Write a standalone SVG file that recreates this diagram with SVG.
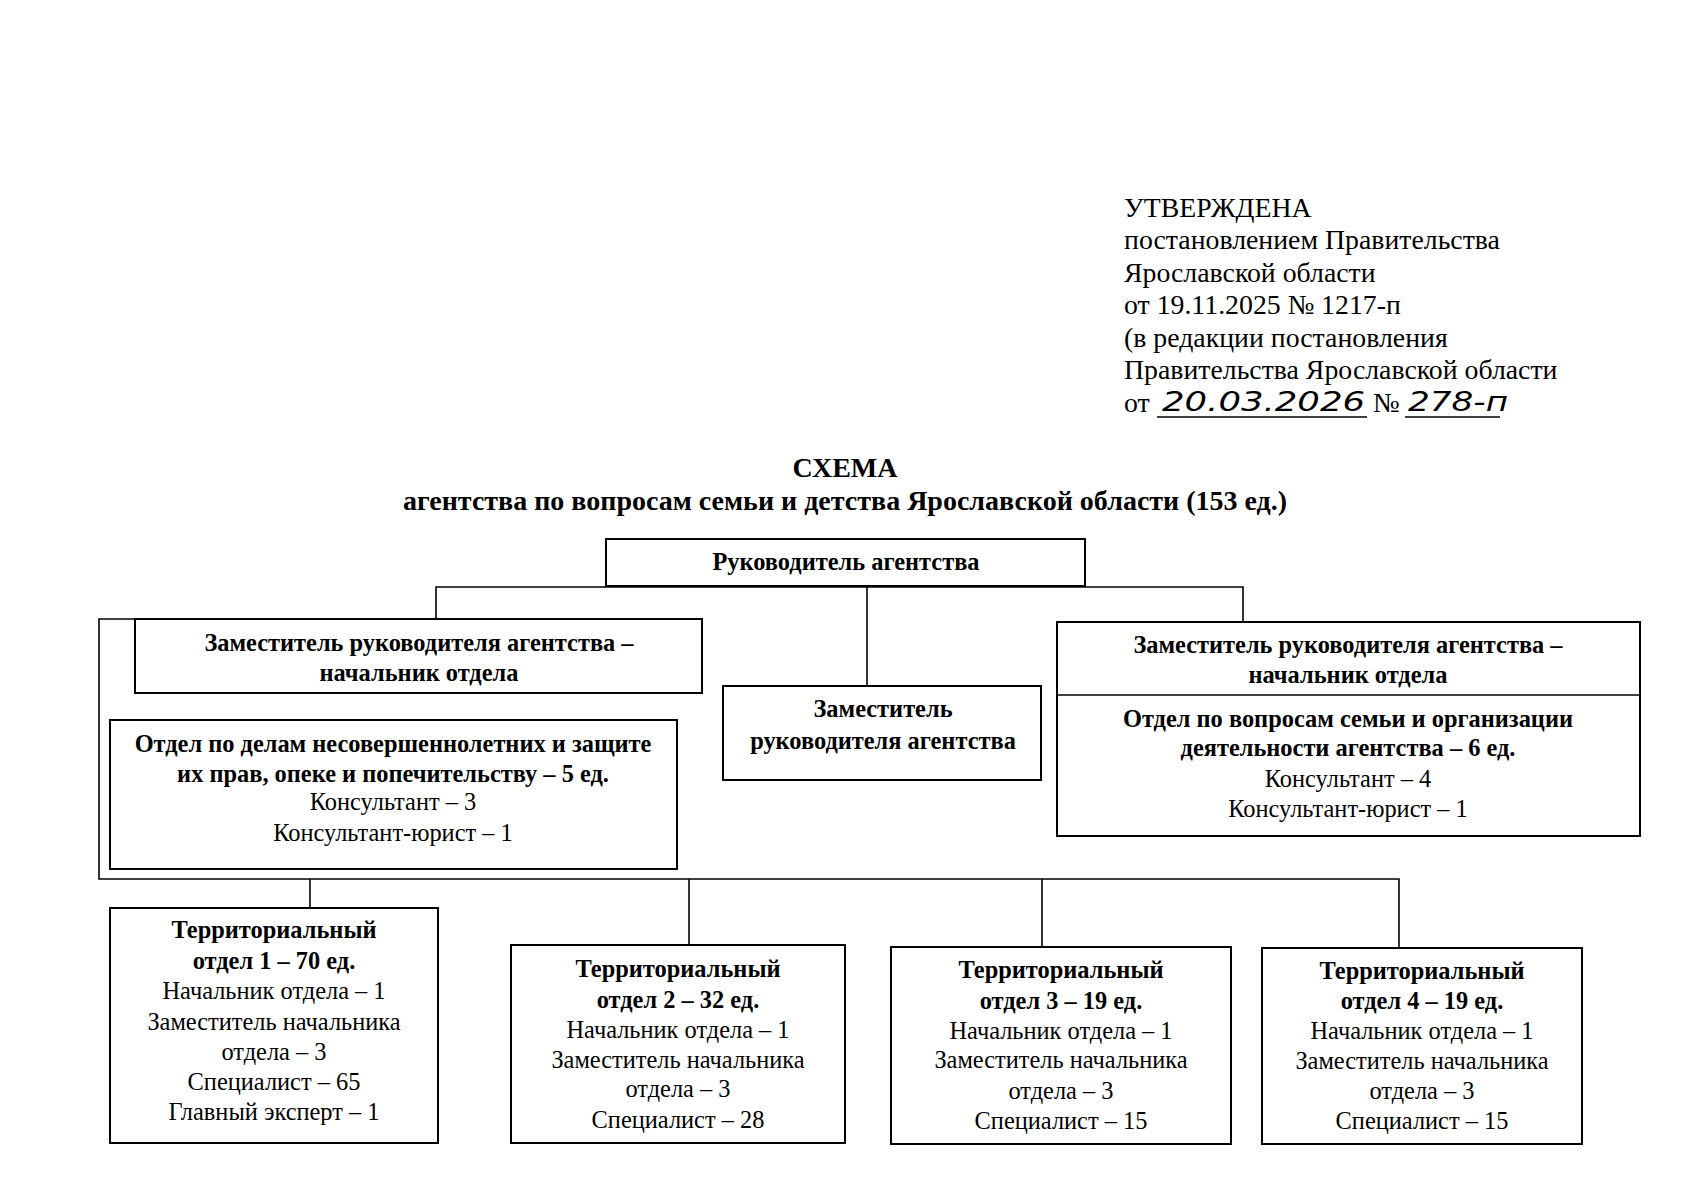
<svg xmlns="http://www.w3.org/2000/svg" width="1697" height="1200" viewBox="0 0 1697 1200">
<style>
text{font-family:"Liberation Serif","Times New Roman",serif;fill:#000}
.h{font-size:27.8px}
.hw{font-family:"DejaVu Sans",sans-serif;font-style:italic;font-size:27px;font-weight:300}
.t{font-size:28px;font-weight:bold;text-anchor:middle}
.b{font-size:24.4px;font-weight:bold;text-anchor:middle}
.r{font-size:24.4px;text-anchor:middle}
.box{fill:#fff;stroke:#000;stroke-width:2}
.ln{fill:none;stroke:#000;stroke-width:1.6}
</style>
<rect width="1697" height="1200" fill="#fff"/>
<g id="header">
<text class="h" x="1124" y="217">УТВЕРЖДЕНА</text>
<text class="h" x="1124" y="249">постановлением Правительства</text>
<text class="h" x="1124" y="282">Ярославской области</text>
<text class="h" x="1124" y="314">от 19.11.2025 № 1217-п</text>
<text class="h" x="1124" y="347">(в редакции постановления</text>
<text class="h" x="1124" y="379">Правительства Ярославской области</text>
<text class="h" x="1124" y="412">от</text>
<text class="hw" x="1162" y="411" textLength="203" lengthAdjust="spacingAndGlyphs">20.03.2026</text>
<text class="h" x="1373" y="412">№</text>
<text class="hw" x="1408" y="411" textLength="100" lengthAdjust="spacingAndGlyphs">278-п</text>
<line class="ln" x1="1157" y1="417" x2="1367" y2="417" stroke-width="1"/>
<line class="ln" x1="1405" y1="417" x2="1500" y2="417" stroke-width="1"/>
</g>
<g id="title">
<text class="t" x="845" y="477">СХЕМА</text>
<text class="t" x="845" y="510">агентства по вопросам семьи и детства Ярославской области (153 ед.)</text>
</g>
<g id="connectors">
<polyline class="ln" points="436,619 436,587 1243,587 1243,622"/>
<line class="ln" x1="867" y1="587" x2="867" y2="686"/>
<polyline class="ln" points="135,619 99,619 99,879 1399,879 1399,948"/>
<line class="ln" x1="310" y1="879" x2="310" y2="908"/>
<line class="ln" x1="689" y1="879" x2="689" y2="945"/>
<line class="ln" x1="1042" y1="879" x2="1042" y2="947"/>
</g>
<g id="head">
<rect class="box" x="606" y="539" width="479" height="47"/>
<text class="b" x="846" y="570">Руководитель агентства</text>
</g>
<g id="deputy1">
<rect class="box" x="135" y="619" width="567" height="74"/>
<text class="b" x="419" y="651">Заместитель руководителя агентства –</text>
<text class="b" x="419" y="681">начальник отдела</text>
</g>
<g id="dept1">
<rect class="box" x="110" y="720" width="567" height="149"/>
<text class="b" x="393" y="752">Отдел по делам несовершеннолетних и защите</text>
<text class="b" x="393" y="782">их прав, опеке и попечительству – 5 ед.</text>
<text class="r" x="393" y="810">Консультант – 3</text>
<text class="r" x="393" y="841">Консультант-юрист – 1</text>
</g>
<g id="deputy2">
<rect class="box" x="723" y="686" width="318" height="94"/>
<text class="b" x="883" y="717">Заместитель</text>
<text class="b" x="883" y="749">руководителя агентства</text>
</g>
<g id="deputy3">
<rect class="box" x="1057" y="622" width="583" height="214"/>
<line class="ln" x1="1057" y1="695" x2="1640" y2="695" stroke-width="2"/>
<text class="b" x="1348" y="653">Заместитель руководителя агентства –</text>
<text class="b" x="1348" y="683">начальник отдела</text>
<text class="b" x="1348" y="727">Отдел по вопросам семьи и организации</text>
<text class="b" x="1348" y="756">деятельности агентства – 6 ед.</text>
<text class="r" x="1348" y="787">Консультант – 4</text>
<text class="r" x="1348" y="817">Консультант-юрист – 1</text>
</g>
<g id="terr1">
<rect class="box" x="110" y="908" width="328" height="235"/>
<text class="b" x="274" y="938">Территориальный</text>
<text class="b" x="274" y="969">отдел 1 – 70 ед.</text>
<text class="r" x="274" y="999">Начальник отдела – 1</text>
<text class="r" x="274" y="1030">Заместитель начальника</text>
<text class="r" x="274" y="1060">отдела – 3</text>
<text class="r" x="274" y="1090">Специалист – 65</text>
<text class="r" x="274" y="1120">Главный эксперт – 1</text>
</g>
<g id="terr2">
<rect class="box" x="511" y="945" width="334" height="198"/>
<text class="b" x="678" y="977">Территориальный</text>
<text class="b" x="678" y="1008">отдел 2 – 32 ед.</text>
<text class="r" x="678" y="1038">Начальник отдела – 1</text>
<text class="r" x="678" y="1068">Заместитель начальника</text>
<text class="r" x="678" y="1097">отдела – 3</text>
<text class="r" x="678" y="1128">Специалист – 28</text>
</g>
<g id="terr3">
<rect class="box" x="891" y="947" width="340" height="197"/>
<text class="b" x="1061" y="978">Территориальный</text>
<text class="b" x="1061" y="1009">отдел 3 – 19 ед.</text>
<text class="r" x="1061" y="1039">Начальник отдела – 1</text>
<text class="r" x="1061" y="1068">Заместитель начальника</text>
<text class="r" x="1061" y="1099">отдела – 3</text>
<text class="r" x="1061" y="1129">Специалист – 15</text>
</g>
<g id="terr4">
<rect class="box" x="1262" y="948" width="320" height="196"/>
<text class="b" x="1422" y="979">Территориальный</text>
<text class="b" x="1422" y="1009">отдел 4 – 19 ед.</text>
<text class="r" x="1422" y="1039">Начальник отдела – 1</text>
<text class="r" x="1422" y="1069">Заместитель начальника</text>
<text class="r" x="1422" y="1099">отдела – 3</text>
<text class="r" x="1422" y="1129">Специалист – 15</text>
</g>
</svg>
